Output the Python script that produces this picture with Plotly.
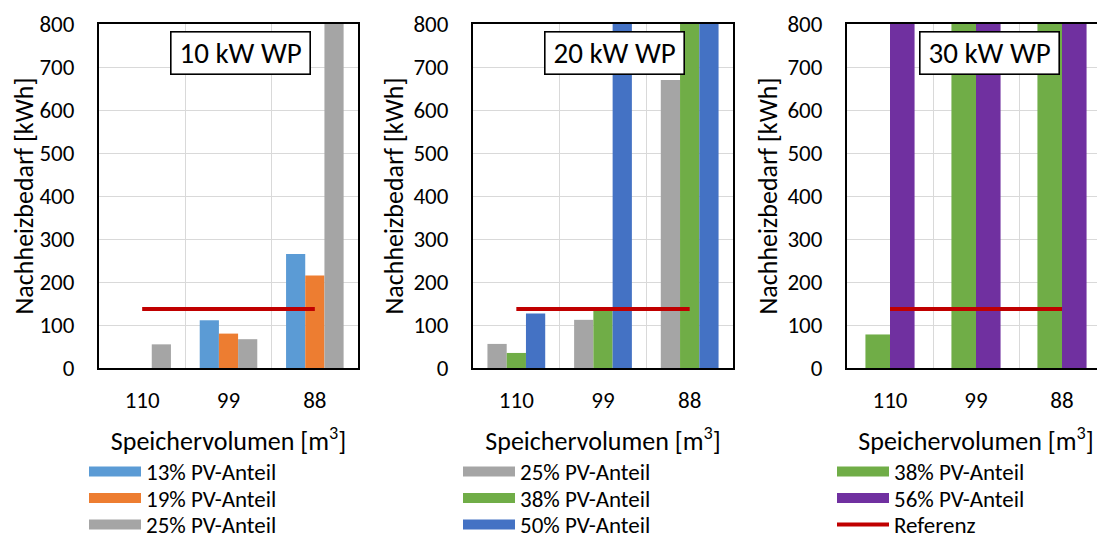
import plotly.graph_objects as go

# ---------------- data ----------------
categories = ["110", "99", "88"]
panel_titles = ["10 kW WP", "20 kW WP", "30 kW WP"]
y_ticks = [0, 100, 200, 300, 400, 500, 600, 700, 800]

# 10 kW WP
wp10_pv13 = [None, 111, 265]
wp10_pv19 = [None, 80, 215]
wp10_pv25 = [55, 67, 800]
# 20 kW WP
wp20_pv25 = [56, 112, 670]
wp20_pv38 = [35, 136, 800]
wp20_pv50 = [127, 800, 800]
# 30 kW WP
wp30_pv38 = [78, 800, 800]
wp30_pv56 = [800, 800, 800]

referenz = [137, 137, 137]

series_names = {
    "pv13": "13% PV-Anteil",
    "pv19": "19% PV-Anteil",
    "pv25": "25% PV-Anteil",
    "pv38": "38% PV-Anteil",
    "pv50": "50% PV-Anteil",
    "pv56": "56% PV-Anteil",
}
colors = {
    "pv13": "#5B9BD5",
    "pv19": "#ED7D31",
    "pv25": "#A5A5A5",
    "pv38": "#70AD47",
    "pv50": "#4472C4",
    "pv56": "#7030A0",
}
ref_color = "#C00000"

panels = [
    [("pv13", wp10_pv13), ("pv19", wp10_pv19), ("pv25", wp10_pv25)],
    [("pv25", wp20_pv25), ("pv38", wp20_pv38), ("pv50", wp20_pv50)],
    [("pv38", wp30_pv38), ("pv56", wp30_pv56)],
]

# ---------------- layout helpers ----------------
# the page body adds an 8px margin, so the figure is drawn 8px smaller
OFF = 8
W, H = 1105 - OFF, 538 - OFF
FONT = "Carlito, Calibri, Lato, sans-serif"


def pxx(v):
    return (v - OFF) / W


def pxy(v):
    return (H - (v - OFF)) / H


x_domains = [(99, 358), (473, 733), (847, 1106)]
y_dom = (pxy(368), pxy(24))
legend_rows = [471.5, 498, 524.5]
box_centers = [240, 614, 989]

fig = go.Figure()


def add_legend(idx, px_x, px_y):
    name = "legend" if idx == 1 else "legend%d" % idx
    fig.layout[name] = dict(
        x=pxx(px_x), y=pxy(px_y), xanchor="left", yanchor="middle",
        xref="paper", yref="paper", orientation="v", itemwidth=52,
        font=dict(family=FONT, size=23, color="black"),
        bgcolor="rgba(0,0,0,0)", borderwidth=0,
        itemclick=False, itemdoubleclick=False,
    )
    return name


leg_idx = 1
for p, series in enumerate(panels):
    sfx = "" if p == 0 else str(p + 1)
    xa, ya = "x" + sfx, "y" + sfx
    n = len(series)
    w = 1.0 / (n + 1.5)
    x0, x1 = x_domains[p]
    for i, (key, vals) in enumerate(series):
        fig.add_trace(go.Bar(
            x=categories, y=vals, xaxis=xa, yaxis=ya,
            width=w, offset=-n * w / 2 + i * w,
            marker=dict(color=colors[key], line=dict(width=0)),
            name=series_names[key], showlegend=False,
        ))
        lg = add_legend(leg_idx, x0 - 15, legend_rows[i])
        leg_idx += 1
        fig.add_trace(go.Scatter(
            x=[None], y=[None], xaxis=xa, yaxis=ya, mode="lines",
            line=dict(color=colors[key], width=14),
            name=series_names[key], legend=lg, showlegend=True,
        ))
    show_ref = (p == 2)
    lg = "legend"
    if show_ref:
        lg = add_legend(leg_idx, x0 - 15, legend_rows[n])
        leg_idx += 1
    fig.add_trace(go.Scatter(
        x=categories, y=referenz, xaxis=xa, yaxis=ya, mode="lines",
        line=dict(color=ref_color, width=4),
        name="Referenz", legend=lg, showlegend=show_ref,
    ))

    fig.layout["xaxis" + sfx] = dict(
        domain=[pxx(x0), min(pxx(x1), 1.0)], anchor=ya,
        type="category", categoryorder="array", categoryarray=categories,
        range=[-0.5, 2.5], tickson="boundaries",
        showgrid=True, gridcolor="#D9D9D9", gridwidth=1.3,
        showline=True, linecolor="black", linewidth=2, mirror=True,
        ticks="", ticklabelstandoff=10,
        tickfont=dict(family=FONT, size=23, color="black"),
        title=dict(text="Speichervolumen [m<sup>3</sup>]", standoff=19,
                   font=dict(family=FONT, size=26, color="black")),
        automargin=False, fixedrange=True,
    )
    fig.layout["yaxis" + sfx] = dict(
        domain=list(y_dom), anchor=xa, range=[0, 800],
        tickvals=y_ticks, ticktext=[str(v) for v in y_ticks],
        showgrid=True, gridcolor="#D9D9D9", gridwidth=1.3,
        showline=True, linecolor="black", linewidth=2, mirror=True,
        zeroline=False, ticks="", ticklabelstandoff=18,
        tickfont=dict(family=FONT, size=23, color="black"),
        title=dict(text="Nachheizbedarf [kWh]", standoff=2,
                   font=dict(family=FONT, size=26, color="black")),
        automargin=False, fixedrange=True,
    )
    fig.add_annotation(
        text=panel_titles[p], xref="paper", yref="paper",
        x=pxx(box_centers[p]), y=pxy(52.5),
        xanchor="center", yanchor="middle", showarrow=False,
        width=136, height=39, borderpad=1,
        font=dict(family=FONT, size=29, color="black"),
        bgcolor="white", bordercolor="black", borderwidth=1.6,
    )

fig.update_layout(
    width=W, height=H,
    margin=dict(l=0, r=0, t=0, b=0, autoexpand=False),
    paper_bgcolor="white", plot_bgcolor="white",
    barmode="overlay", font=dict(family=FONT, color="black"),
)

fig.write_html("out.html")
